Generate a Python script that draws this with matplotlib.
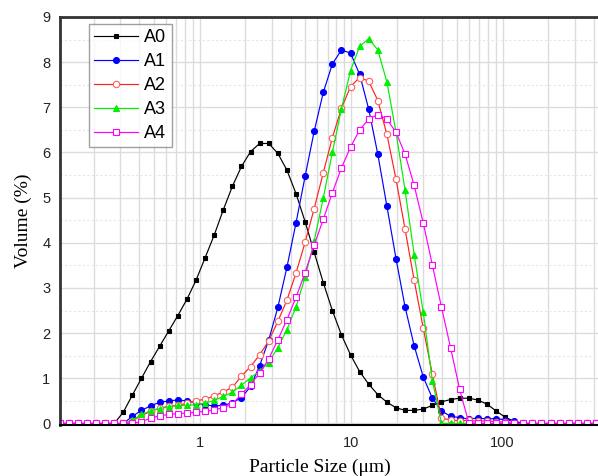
import matplotlib
matplotlib.use("Agg")
import matplotlib.pyplot as plt
from matplotlib.ticker import FixedLocator, NullFormatter, FixedFormatter

# particle size classes (um)
sizes = [0.1194, 0.1371, 0.1574, 0.1807, 0.2075, 0.2382, 0.2735, 0.3141, 0.3606, 0.4140,
         0.4753, 0.5458, 0.6266, 0.7194, 0.8260, 0.9484, 1.089, 1.250, 1.435, 1.648,
         1.892, 2.173, 2.495, 2.864, 3.289, 3.776, 4.335, 4.977, 5.715, 6.561,
         7.534, 8.650, 9.931, 11.40, 13.09, 15.03, 17.26, 19.82, 22.75, 26.12,
         29.99, 34.43, 39.54, 45.39, 52.12, 59.84, 68.71, 78.89, 90.57, 104.0,
         119.4, 137.1, 157.4, 180.7, 207.5, 238.2, 273.5, 314.1, 360.6, 414.0]

lead = [0, 0, 0, 0, 0, 0, 0]

A0 = lead + [0.25, 0.63, 1.00, 1.37, 1.71, 2.05, 2.39, 2.75, 3.17, 3.67,
             4.17, 4.73, 5.25, 5.69, 6.02, 6.20, 6.20, 5.98, 5.61, 5.09,
             4.47, 3.79, 3.12, 2.50, 1.96, 1.52, 1.15, 0.87, 0.64, 0.47,
             0.35, 0.29, 0.29, 0.32, 0.40, 0.48, 0.53, 0.56, 0.56, 0.52,
             0.43, 0.28, 0.14, 0.05, 0, 0, 0, 0, 0, 0, 0, 0, 0]
A1 = lead + [0, 0.16, 0.29, 0.39, 0.47, 0.50, 0.52, 0.50, 0.46, 0.41,
             0.39, 0.40, 0.46, 0.57, 0.82, 1.28, 1.85, 2.57, 3.46, 4.44,
             5.47, 6.47, 7.33, 7.96, 8.27, 8.20, 7.73, 6.96, 5.96, 4.81,
             3.65, 2.58, 1.72, 1.03, 0.56, 0.28, 0.16, 0.13, 0.10, 0.12,
             0.10, 0.11, 0.08, 0.05, 0, 0, 0, 0, 0, 0, 0, 0, 0]
A2 = lead + [0, 0.06, 0.17, 0.27, 0.34, 0.38, 0.40, 0.45, 0.50, 0.54,
             0.61, 0.70, 0.80, 1.05, 1.26, 1.52, 1.83, 2.26, 2.73, 3.33,
             4.01, 4.76, 5.55, 6.33, 6.98, 7.46, 7.66, 7.58, 7.15, 6.40,
             5.41, 4.30, 3.17, 2.11, 1.09, 0.12, 0.08, 0.06, 0.07, 0.05,
             0.06, 0.04, 0.03, 0, 0, 0, 0, 0, 0, 0, 0, 0, 0]
A3 = lead + [0, 0.07, 0.20, 0.28, 0.33, 0.37, 0.40, 0.40, 0.42, 0.45,
             0.51, 0.60, 0.69, 0.85, 1.01, 1.16, 1.35, 1.68, 2.08, 2.58,
             3.24, 4.04, 4.99, 6.00, 6.97, 7.81, 8.35, 8.52, 8.27, 7.56,
             6.45, 5.16, 3.74, 2.46, 0.95, 0, 0, 0, 0, 0,
             0, 0, 0, 0, 0, 0, 0, 0, 0, 0, 0, 0, 0]
A4 = lead + [0, 0, 0.04, 0.12, 0.17, 0.20, 0.22, 0.23, 0.25, 0.27,
             0.30, 0.35, 0.43, 0.65, 0.86, 1.12, 1.43, 1.85, 2.30, 2.79,
             3.34, 3.95, 4.52, 5.11, 5.66, 6.12, 6.50, 6.74, 6.84, 6.74,
             6.45, 5.96, 5.27, 4.44, 3.51, 2.58, 1.68, 0.76, 0.02, 0,
             0, 0, 0, 0, 0, 0, 0, 0, 0, 0, 0, 0, 0]

labels = ["A0", "A1", "A2", "A3", "A4"]
x_major = [1, 10, 100]
x_major_labels = ["1", "10", "100"]
y_ticks = [0, 1, 2, 3, 4, 5, 6, 7, 8, 9]

W, H = 598, 476
fig = plt.figure(figsize=(W / 100, H / 100), dpi=100)
left, right, top, bottom = 60, 600, 17, 425.3
ax = fig.add_axes([left / W, (H - bottom) / H, (right - left) / W, (bottom - top) / H])

styles = [
    dict(color="black", marker="s", ms=3.4, mfc="black", mec="black"),
    dict(color="#0000ff", marker="o", ms=4.3, mfc="#0000ff", mec="#0000ff"),
    dict(color="#ff2020", marker="o", ms=4.6, mfc="white", mec="#ff6060"),
    dict(color="#00ee00", marker="^", ms=4.9, mfc="#00ee00", mec="#00ee00"),
    dict(color="#ff00ff", marker="s", ms=4.3, mfc="white", mec="#ff00ff"),
]
series = [A0, A1, A2, A3, A4]
for vals, lab, st in zip(series, labels, styles):
    ax.plot(sizes, vals, lw=0.85, mew=0.8, label=lab, clip_on=True, **st)

ax.set_xscale("log")
ax.set_xlim(10 ** ((left - 199.5) / 151.5), 10 ** ((right - 199.5) / 151.5))
ax.set_ylim(-0.04, 9.0)

ax.xaxis.set_major_locator(FixedLocator(x_major))
ax.xaxis.set_major_formatter(FixedFormatter(x_major_labels))
minor = [m * d for d in [0.1, 1, 10, 100] for m in range(2, 10)]
ax.xaxis.set_minor_locator(FixedLocator(minor))
ax.xaxis.set_minor_formatter(NullFormatter())
ax.set_yticks(y_ticks)
ax.set_yticks([v + 0.5 for v in range(9)], minor=True)

ax.grid(True, which="major", axis="both", color="#dcdcdc", lw=1.0)
ax.grid(True, which="minor", axis="x", color="#dcdcdc", lw=1.0)
ax.grid(True, which="minor", axis="y", color="#e6e6e6", lw=0.8, ls=(0, (2, 2)))
ax.set_axisbelow(True)

ax.tick_params(which="both", length=0)
ax.tick_params(axis="y", pad=7)
ax.tick_params(axis="x", pad=8)
for lab in ax.get_xticklabels() + ax.get_yticklabels():
    lab.set_fontfamily("Liberation Sans")
    lab.set_fontsize(10.5)
    lab.set_color("#222222")

for s in ["left", "top"]:
    ax.spines[s].set_linewidth(2.0)
    ax.spines[s].set_color("#333333")
ax.spines["bottom"].set_linewidth(1.5)
ax.spines["bottom"].set_color("black")
ax.spines["right"].set_visible(False)

ax.set_xlabel("Particle Size (μm)", fontfamily="Liberation Serif", fontsize=14)
ax.set_ylabel("Volume (%)", fontfamily="Liberation Serif", fontsize=14)
ax.xaxis.set_label_coords((320 - left) / (right - left), -(467 - bottom) / (bottom - top))
ax.yaxis.set_label_coords(-(left - 23) / (right - left), 0.5)
ax.xaxis.label.set_verticalalignment("center")
ax.yaxis.label.set_verticalalignment("center")

leg = ax.legend(loc="upper left", bbox_to_anchor=(89 / W, 1 - 24 / H),
                bbox_transform=fig.transFigure, frameon=True, fancybox=False,
                prop={"family": "Liberation Sans", "size": 13},
                handlelength=2.4, handletextpad=0.35, labelspacing=0.38,
                borderpad=0.3, borderaxespad=0)
leg.get_frame().set_edgecolor("#888888")
leg.get_frame().set_linewidth(1.0)

fig.savefig("out.png", dpi=100)
